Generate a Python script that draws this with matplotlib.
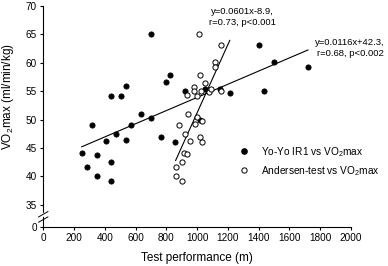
import matplotlib
matplotlib.use("Agg")
import matplotlib.pyplot as plt
from matplotlib.lines import Line2D

plt.rcParams['font.family'] = ['Liberation Sans', 'DejaVu Sans']
plt.rcParams['mathtext.fontset'] = 'custom'
plt.rcParams['mathtext.rm'] = 'Liberation Sans'
plt.rcParams['mathtext.it'] = 'Liberation Sans'

# Yo-Yo IR1 (filled)
yoyo_x = [700, 825, 795, 539, 442, 505, 314, 632, 697, 569, 474, 409, 539, 762, 857,
          251, 347, 442, 284, 347, 442, 920, 1050, 1147, 1212, 1403, 1500, 1721, 1433, 1020]
yoyo_y = [65.1, 57.9, 56.6, 55.9, 54.1, 54.1, 49.1, 50.9, 50.3, 49.0, 47.4, 46.3, 46.4, 47.0, 46.1,
          44.05, 43.8, 42.5, 41.6, 40.05, 39.1, 55.0, 55.4, 55.4, 54.7, 63.1, 60.2, 59.2, 55.1, 49.9]

# Andersen test (open)
and_x = [1015, 1154, 1113, 1113, 1020, 1054, 979, 979, 935, 996, 1022, 1078, 1091, 1152,
         942, 996, 1032, 881, 985, 920, 1017, 1032, 954, 915, 935, 903, 862, 860, 899]
and_y = [65.1, 63.1, 60.2, 59.3, 57.9, 56.5, 55.8, 55.0, 54.3, 54.2, 55.0, 54.85, 55.3, 55.0,
         50.9, 50.4, 49.8, 49.0, 49.2, 47.4, 47.0, 46.1, 46.3, 44.05, 43.9, 42.5, 41.6, 40.1, 39.1]

# regression lines
yoyo_slope, yoyo_icpt = 0.0116, 42.3
and_slope, and_icpt = 0.0601, -8.9
yoyo_line_x = [250, 1720]
and_line_x = [860, 1212]

x_ticks = [0, 200, 400, 600, 800, 1000, 1200, 1400, 1600, 1800, 2000]
y_ticks = [35, 40, 45, 50, 55, 60, 65, 70]
y_zero_pos = 31.07  # position where the broken axis "0" is drawn

fig = plt.figure(figsize=(3.88, 2.66), dpi=100)
ax = fig.add_axes([43.3/388, 1-227/266, (351-43.3)/388, (227-6)/266])

ax.scatter(yoyo_x, yoyo_y, s=14, c='black', edgecolors='black', linewidths=0.6, zorder=3)
ax.scatter(and_x, and_y, s=14, facecolors='white', edgecolors='black', linewidths=0.7, zorder=3)

ax.plot(yoyo_line_x, [yoyo_slope*x + yoyo_icpt for x in yoyo_line_x], color='black', lw=0.8, zorder=2)
ax.plot(and_line_x, [and_slope*x + and_icpt for x in and_line_x], color='black', lw=0.8, zorder=2)

ax.set_xlim(0, 2000)
ax.set_ylim(y_zero_pos, 70)
ax.set_xticks(x_ticks)
ax.set_xticklabels([str(t) for t in x_ticks])
ax.set_yticks([y_zero_pos] + y_ticks)
ax.set_yticklabels(['0'] + [str(t) for t in y_ticks])
ax.tick_params(direction='out', length=2.5, width=0.8, labelsize=7.2, pad=2)
for s in ['top', 'right']:
    ax.spines[s].set_visible(False)
for s in ['left', 'bottom']:
    ax.spines[s].set_linewidth(0.8)

# axis break marks
ybreak = (32.85 - y_zero_pos) / (70 - y_zero_pos)
ax.plot([-0.015, 0.015], [ybreak - 0.005, ybreak + 0.022], transform=ax.transAxes,
        color='white', lw=2.5, clip_on=False, zorder=5)
for dy in (-0.012, 0.012):
    ax.plot([-0.015, 0.015], [ybreak + dy - 0.012, ybreak + dy + 0.012], transform=ax.transAxes,
            color='black', lw=0.7, clip_on=False, zorder=6)

ax.set_xlabel('Test performance (m)', fontsize=8.5)
ax.xaxis.set_label_coords(0.5, -0.112)
ax.set_ylabel('VO$_2$max (ml/min/kg)', fontsize=8.5)
ax.yaxis.set_label_coords(-0.09, 0.59)

ax.text(1293, 68.1, 'y=0.0601x-8.9,\nr=0.73, p<0.001', ha='center', va='center', fontsize=6.8, linespacing=1.25)
ax.text(1995, 62.6, 'y=0.0116x+42.3,\nr=0.68, p<0.002', ha='center', va='center', fontsize=6.8,
        linespacing=1.25, clip_on=False)

handles = [Line2D([], [], marker='o', ls='none', markersize=3.8, markerfacecolor='black', markeredgecolor='black'),
           Line2D([], [], marker='o', ls='none', markersize=3.8, markerfacecolor='white', markeredgecolor='black', markeredgewidth=0.7)]
ax.legend(handles, ['Yo-Yo IR1 vs VO$_2$max', 'Andersen-test vs VO$_2$max'], frameon=False, fontsize=7.3,
          loc='upper left', bbox_to_anchor=(240/388, 1-145/266), bbox_transform=fig.transFigure,
          borderpad=0, borderaxespad=0, handlelength=0.8, handletextpad=1.3, labelspacing=0.5)

fig.savefig('out.png', dpi=100)
